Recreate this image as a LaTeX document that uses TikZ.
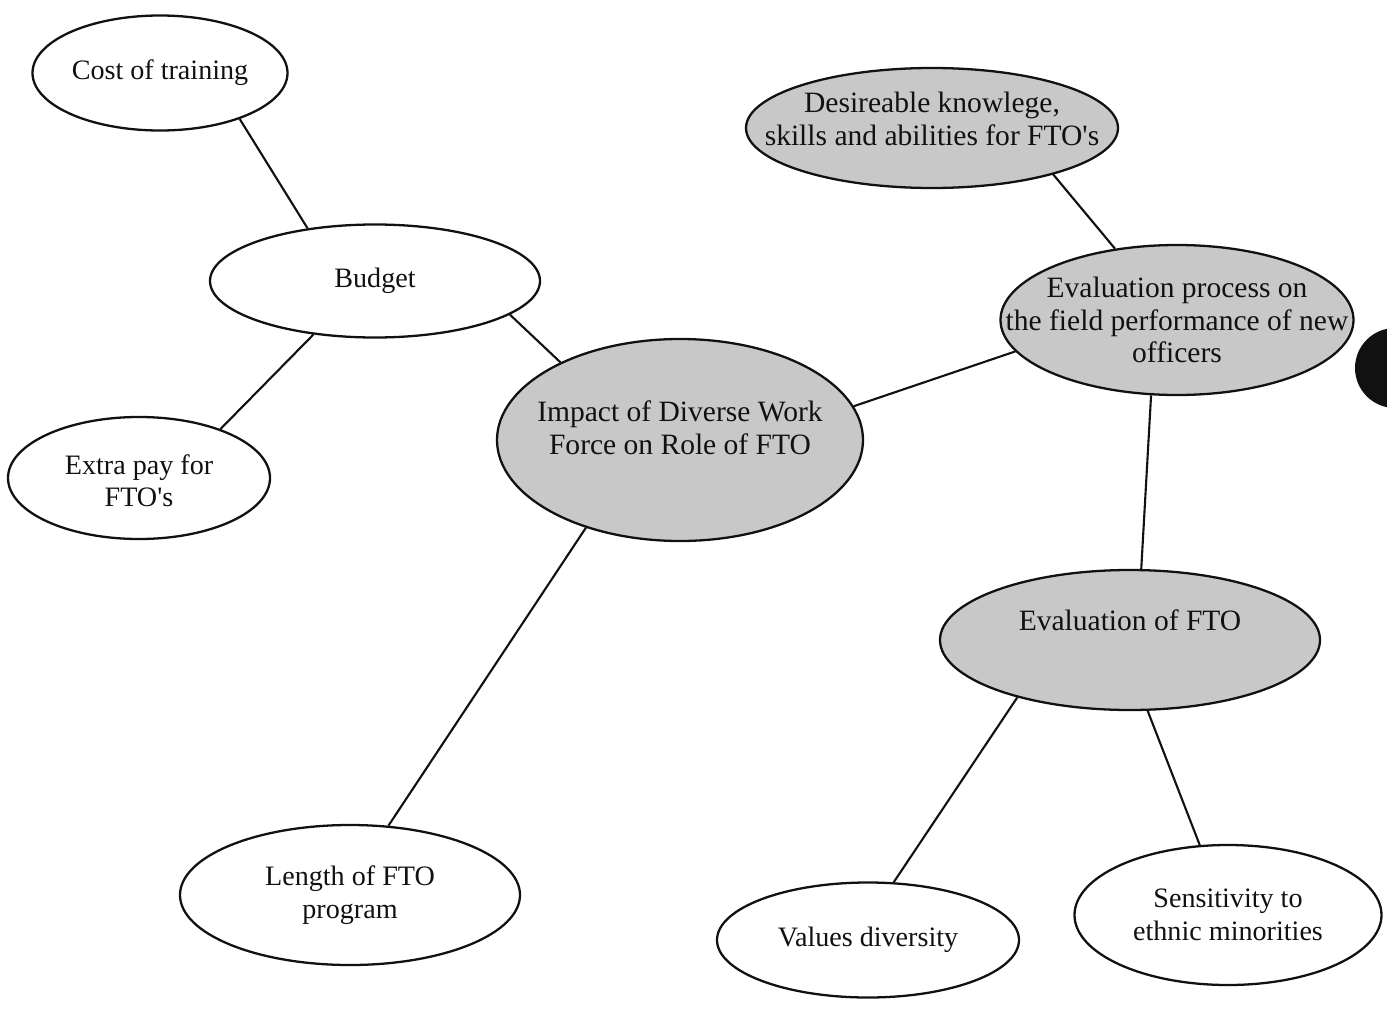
\documentclass[tikz,border=0pt]{standalone}
\usepackage{fontspec}
\setmainfont{Liberation Serif}
\usepackage{xcolor}
\usetikzlibrary{shapes.geometric}
\definecolor{ink}{HTML}{111111}
\definecolor{dots}{HTML}{C8C8C8}
\tikzset{
  bubble/.style={ellipse, draw=ink, line width=1.3pt, fill=white, inner sep=0pt},
  hot/.style={bubble, fill=dots},
  txt/.style={align=center, text=ink, font=\fontsize{16}{18.5}\selectfont},
  hottxt/.style={txt, font=\fontsize{16.8}{18.5}\selectfont},
  link/.style={line width=1.2pt, draw=ink}
}

\begin{document}
\begin{tikzpicture}
  \clip (0,0) rectangle (27.74,-20.18);
  \fill[white] (0,0) rectangle (27.74,-20.18);

  \node[bubble, minimum width=5.1cm, minimum height=2.3cm,
    label={[txt]center:Cost of training}] (cost) at (3.2,-1.46) {};
  \node[bubble, minimum width=6.6cm, minimum height=2.26cm,
    label={[txt]center:Budget}] (budget) at (7.5,-5.62) {};
  \node[bubble, minimum width=5.24cm, minimum height=2.44cm,
    label={[txt, yshift=-0.05cm]center:Extra pay for\\FTO\textquotesingle s}] (extra) at (2.78,-9.56) {};
  \node[hot, minimum width=7.32cm, minimum height=4.04cm,
    label={[hottxt, yshift=0.24cm]center:Impact of Diverse Work\\Force on Role of FTO}] (impact) at (13.6,-8.8) {};
  \node[bubble, minimum width=6.8cm, minimum height=2.8cm,
    label={[txt]center:Length of FTO\\program}] (length) at (7.0,-17.9) {};

  \node[hot, minimum width=7.44cm, minimum height=2.4cm,
    label={[hottxt, yshift=0.18cm]center:Desireable knowlege,\\skills and abilities for FTO\textquotesingle s}] (desire) at (18.64,-2.56) {};
  \node[hot, minimum width=7.06cm, minimum height=3.0cm,
    label={[hottxt]center:Evaluation process on\\the field performance of new\\officers}] (evalproc) at (23.54,-6.4) {};
  \node[hot, minimum width=7.6cm, minimum height=2.8cm,
    label={[hottxt, yshift=0.4cm]center:Evaluation of FTO}] (evalfto) at (22.6,-12.8) {};
  \node[bubble, minimum width=6.04cm, minimum height=2.3cm,
    label={[txt]center:Values diversity}] (values) at (17.36,-18.8) {};
  \node[bubble, minimum width=6.14cm, minimum height=2.8cm,
    label={[txt]center:Sensitivity to\\ethnic minorities}] (sensit) at (24.56,-18.3) {};

  % spokes
  \draw[link] (cost.-30) -- (budget.142);
  \draw[link] (budget.-139) -- (extra.31);
  \draw[link] (budget.-14) -- (impact.147);
  \draw[link] (impact.-137) -- (length.61);
  \draw[link] (impact.11) -- (evalproc.191);
  \draw[link] (desire.-21) -- (evalproc.131);
  \draw[link] (evalproc.-109) -- (evalfto.81);
  \draw[link] (evalfto.-153) -- (values.66);
  \draw[link] (evalfto.-76) -- (sensit.112);

  % punch hole at the margin
  \fill[ink] (27.9,-7.36) circle (0.8);
\end{tikzpicture}
\end{document}
